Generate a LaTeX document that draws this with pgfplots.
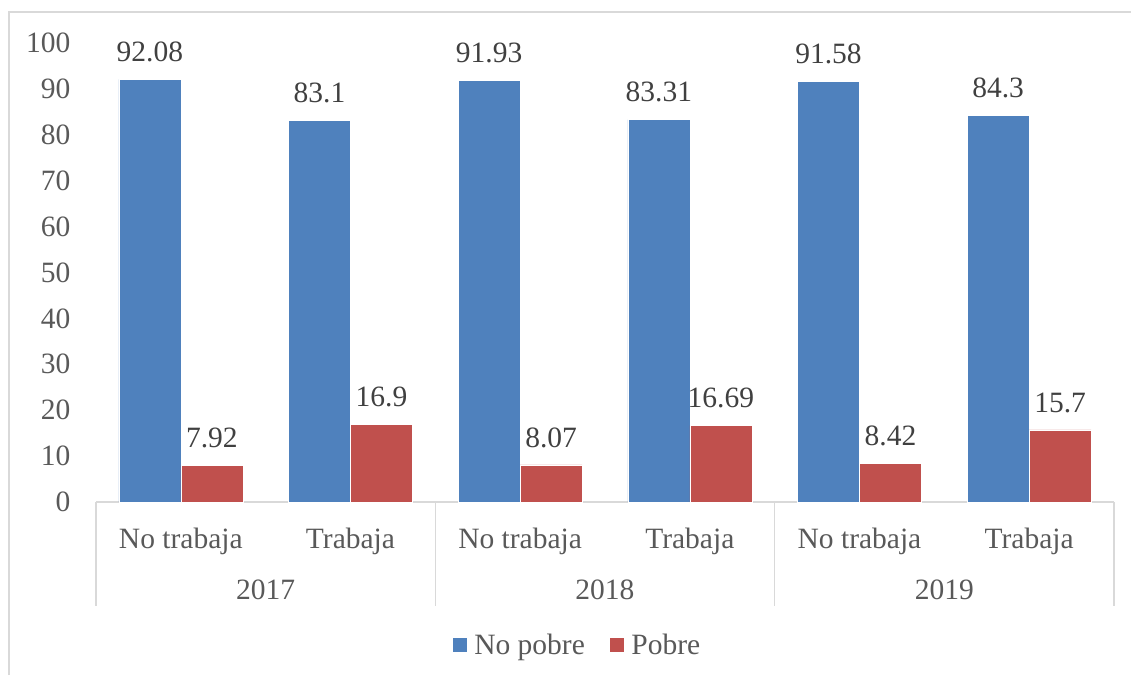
\documentclass[border=0pt]{standalone}
\usepackage{pgfplots}
\pgfplotsset{compat=1.18}
\usepackage{pgfplotstable}
\usepackage{fontspec}
\setmainfont{Liberation Serif}
\definecolor{cblue}{HTML}{4F81BD}
\definecolor{cred}{HTML}{C0504D}
\definecolor{tickc}{HTML}{595959}
\definecolor{labc}{HTML}{404040}
\definecolor{linec}{HTML}{D9D9D9}
\pgfplotstableread{
x y lab
0 92.08 92.08
1 83.1 83.1
2 91.93 91.93
3 83.31 83.31
4 91.58 91.58
5 84.3 84.3
}\nopobre
\pgfplotstableread{
x y lab
0 7.92 7.92
1 16.9 16.9
2 8.07 8.07
3 16.69 16.69
4 8.42 8.42
5 15.7 15.7
}\pobre
\begin{document}
\begin{tikzpicture}[x=1pt,y=1pt]
\useasboundingbox (0,0) rectangle (1131,675);
\draw[linec, line width=1.5pt] (9,0) -- (9,663) -- (1131,663);
\begin{axis}[
  at={(96pt,173pt)}, anchor=south west,
  scale only axis, width=1018pt, height=459pt,
  xmin=-0.5, xmax=5.5, ymin=0, ymax=100,
  ybar=0pt, bar width=62pt,
  axis x line*=bottom, axis y line*=left,
  x axis line style={linec, line width=1.5pt, -},
  y axis line style={draw=none},
  major tick length=0pt,
  xtick={0,1,2,3,4,5},
  xticklabels={No trabaja,Trabaja,No trabaja,Trabaja,No trabaja,Trabaja},
  ytick={0,10,...,100},
  /pgf/number format/assume math mode=true,
  tick label style={font=\fontsize{29.5}{33}\selectfont, text=tickc},
  yticklabel style={xshift=-22pt},
  xticklabel style={yshift=-22pt},
  nodes near coords={\pgfplotspointmeta},
  point meta=explicit symbolic,
  every node near coord/.append style={font=\fontsize{29.5}{33}\selectfont, text=labc, anchor=south, inner sep=0pt, yshift=17pt},
  legend style={at={(0.5,0)}, xshift=-28pt, yshift=-143pt, anchor=center, draw=none, legend columns=2,
    font=\fontsize{29.5}{33}\selectfont, text=tickc,
    /tikz/every even column/.append style={column sep=22pt}},
  legend image code/.code={\fill[#1] (0pt,-7.5pt) rectangle (15pt,7.5pt);},
  legend cell align=left,
  clip=false,
]
\addplot[fill=cblue, draw=white, line width=0.6pt] table[x=x,y=y,meta=lab] {\nopobre};
\addplot[fill=cred, draw=white, line width=0.6pt] table[x=x,y=y,meta=lab] {\pobre};
\legend{\hspace{5pt}No pobre, \hspace{5pt}Pobre}
\draw[linec, line width=1.5pt] (axis cs:-0.5,0) -- ++(0pt,-104pt);
\draw[linec, line width=1.5pt] (axis cs:1.5,0) -- ++(0pt,-104pt);
\draw[linec, line width=1.5pt] (axis cs:3.5,0) -- ++(0pt,-104pt);
\draw[linec, line width=1.5pt] (axis cs:5.5,0) -- ++(0pt,-104pt);
\node[font=\fontsize{29.5}{33}\selectfont, text=tickc] at ([yshift=-88pt]axis cs:0.5,0) {2017};
\node[font=\fontsize{29.5}{33}\selectfont, text=tickc] at ([yshift=-88pt]axis cs:2.5,0) {2018};
\node[font=\fontsize{29.5}{33}\selectfont, text=tickc] at ([yshift=-88pt]axis cs:4.5,0) {2019};
\end{axis}
\end{tikzpicture}
\end{document}
